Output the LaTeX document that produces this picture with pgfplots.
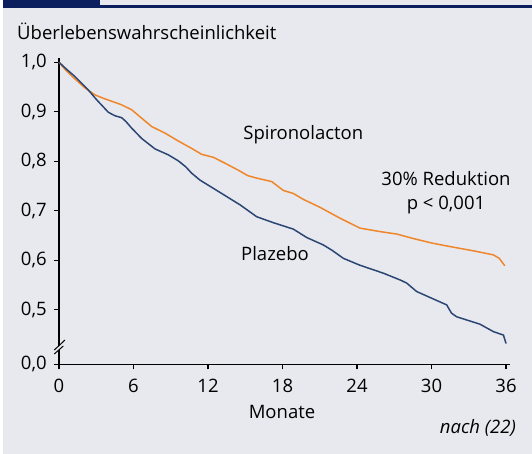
\documentclass[border=0pt]{standalone}
\usepackage{pgfplots}
\pgfplotsset{compat=1.18}
\usepackage{fontspec}
\setmainfont{Open Sans}
\definecolor{bg}{HTML}{E8E9EF}
\definecolor{navyhead}{HTML}{0B1F5E}
\definecolor{orangec}{HTML}{F0862A}
\definecolor{bluec}{HTML}{2C4673}
\pgfplotstableread{
m v
0 1.000
0.4 0.988
0.75 0.979
1.3 0.966
2.1 0.948
2.9 0.934
3.7 0.926
4.5 0.919
5.05 0.914
5.85 0.904
6.66 0.887
7.47 0.870
8.53 0.857
9.6 0.841
10.68 0.826
11.49 0.814
12.43 0.808
13.3 0.797
14.44 0.782
15.2 0.771
15.92 0.766
17.13 0.759
18.07 0.741
18.87 0.735
19.68 0.723
21.02 0.707
22.63 0.685
24.24 0.665
25.85 0.658
27.2 0.653
28.53 0.644
30.0 0.635
31.22 0.629
33.4 0.619
34.98 0.611
35.45 0.604
35.9 0.589
}\spiro
\pgfplotstableread{
m v
0 1.000
0.6 0.986
1.29 0.971
2.36 0.944
3.04 0.924
3.97 0.899
4.5 0.892
5.05 0.888
5.4 0.880
5.85 0.867
6.66 0.846
7.73 0.825
8.8 0.813
9.6 0.801
10.2 0.789
10.68 0.776
11.35 0.762
12.97 0.737
14.58 0.712
15.92 0.688
17.26 0.676
18.87 0.663
19.95 0.646
21.29 0.631
22.0 0.620
22.9 0.604
24.24 0.590
26.12 0.574
27.5 0.560
28.0 0.554
28.8 0.537
29.87 0.525
31.22 0.510
31.45 0.500
31.62 0.493
32.02 0.486
33.9 0.471
34.98 0.456
35.79 0.449
36.0 0.432
}\plazebo
\begin{document}
\begin{tikzpicture}[x=1bp,y=1bp]
\useasboundingbox (0,0) rectangle (532,454);
\fill[white] (0,0) rectangle (532,454);
\fill[bg] (3,0) rectangle (532,454);
\fill[navyhead] (3,446) rectangle (100,454);
\fill[navyhead] (3,446) rectangle (532,448.5);
\fontsize{18.5bp}{24bp}\selectfont
\begin{axis}[
  at={(59bp,89.7bp)}, anchor=south west,
  scale only axis, width=451bp, height=306bp,
  xmin=0, xmax=36.32, ymin=0.39, ymax=1.008,
  axis x line=bottom, axis y line=left,
  axis line style={-, line width=1.3bp, black},
  every tick/.style={black, line width=1.1bp},
  tick align=outside, major tick length=5bp,
  xtick={0,6,12,18,24,30,36},
  ytick={0.39,0.5,0.6,0.7,0.8,0.9,1.0},
  yticklabels={{0,0},{0,5},{0,6},{0,7},{0,8},{0,9},{1,0}},
  /pgf/number format/assume math mode=true,
  tick label style={font=\fontsize{18.5bp}{22bp}\selectfont},
  xticklabel style={yshift=-3bp},
  yticklabel style={xshift=-1bp},
  clip=false,
]
\addplot[orangec, line width=1.5bp, no marks] table[x=m,y=v] {\spiro};
\addplot[bluec, line width=1.5bp, no marks] table[x=m,y=v] {\plazebo};
\end{axis}
% axis break
\fill[bg] (54.3,104) -- (65,114) -- (63.3,108) -- (54.3,100) -- cycle;
\draw[black, line width=1bp] (54.3,104) -- (65,114);
\draw[black, line width=1bp] (54.3,100) -- (63.3,108);
\node[anchor=base west, inner sep=0] at (17,414.5) {Überlebenswahrscheinlichkeit};
\node at (303.3,319) {Spironolacton};
\node[align=center] at (446,261) {30\% Reduktion\\p < 0,001};
\node at (275,200) {Plazebo};
\node at (282,42.3) {Monate};
\node[anchor=east, inner sep=0] at (516,26) {\itshape nach (22)};
\end{tikzpicture}
\end{document}
